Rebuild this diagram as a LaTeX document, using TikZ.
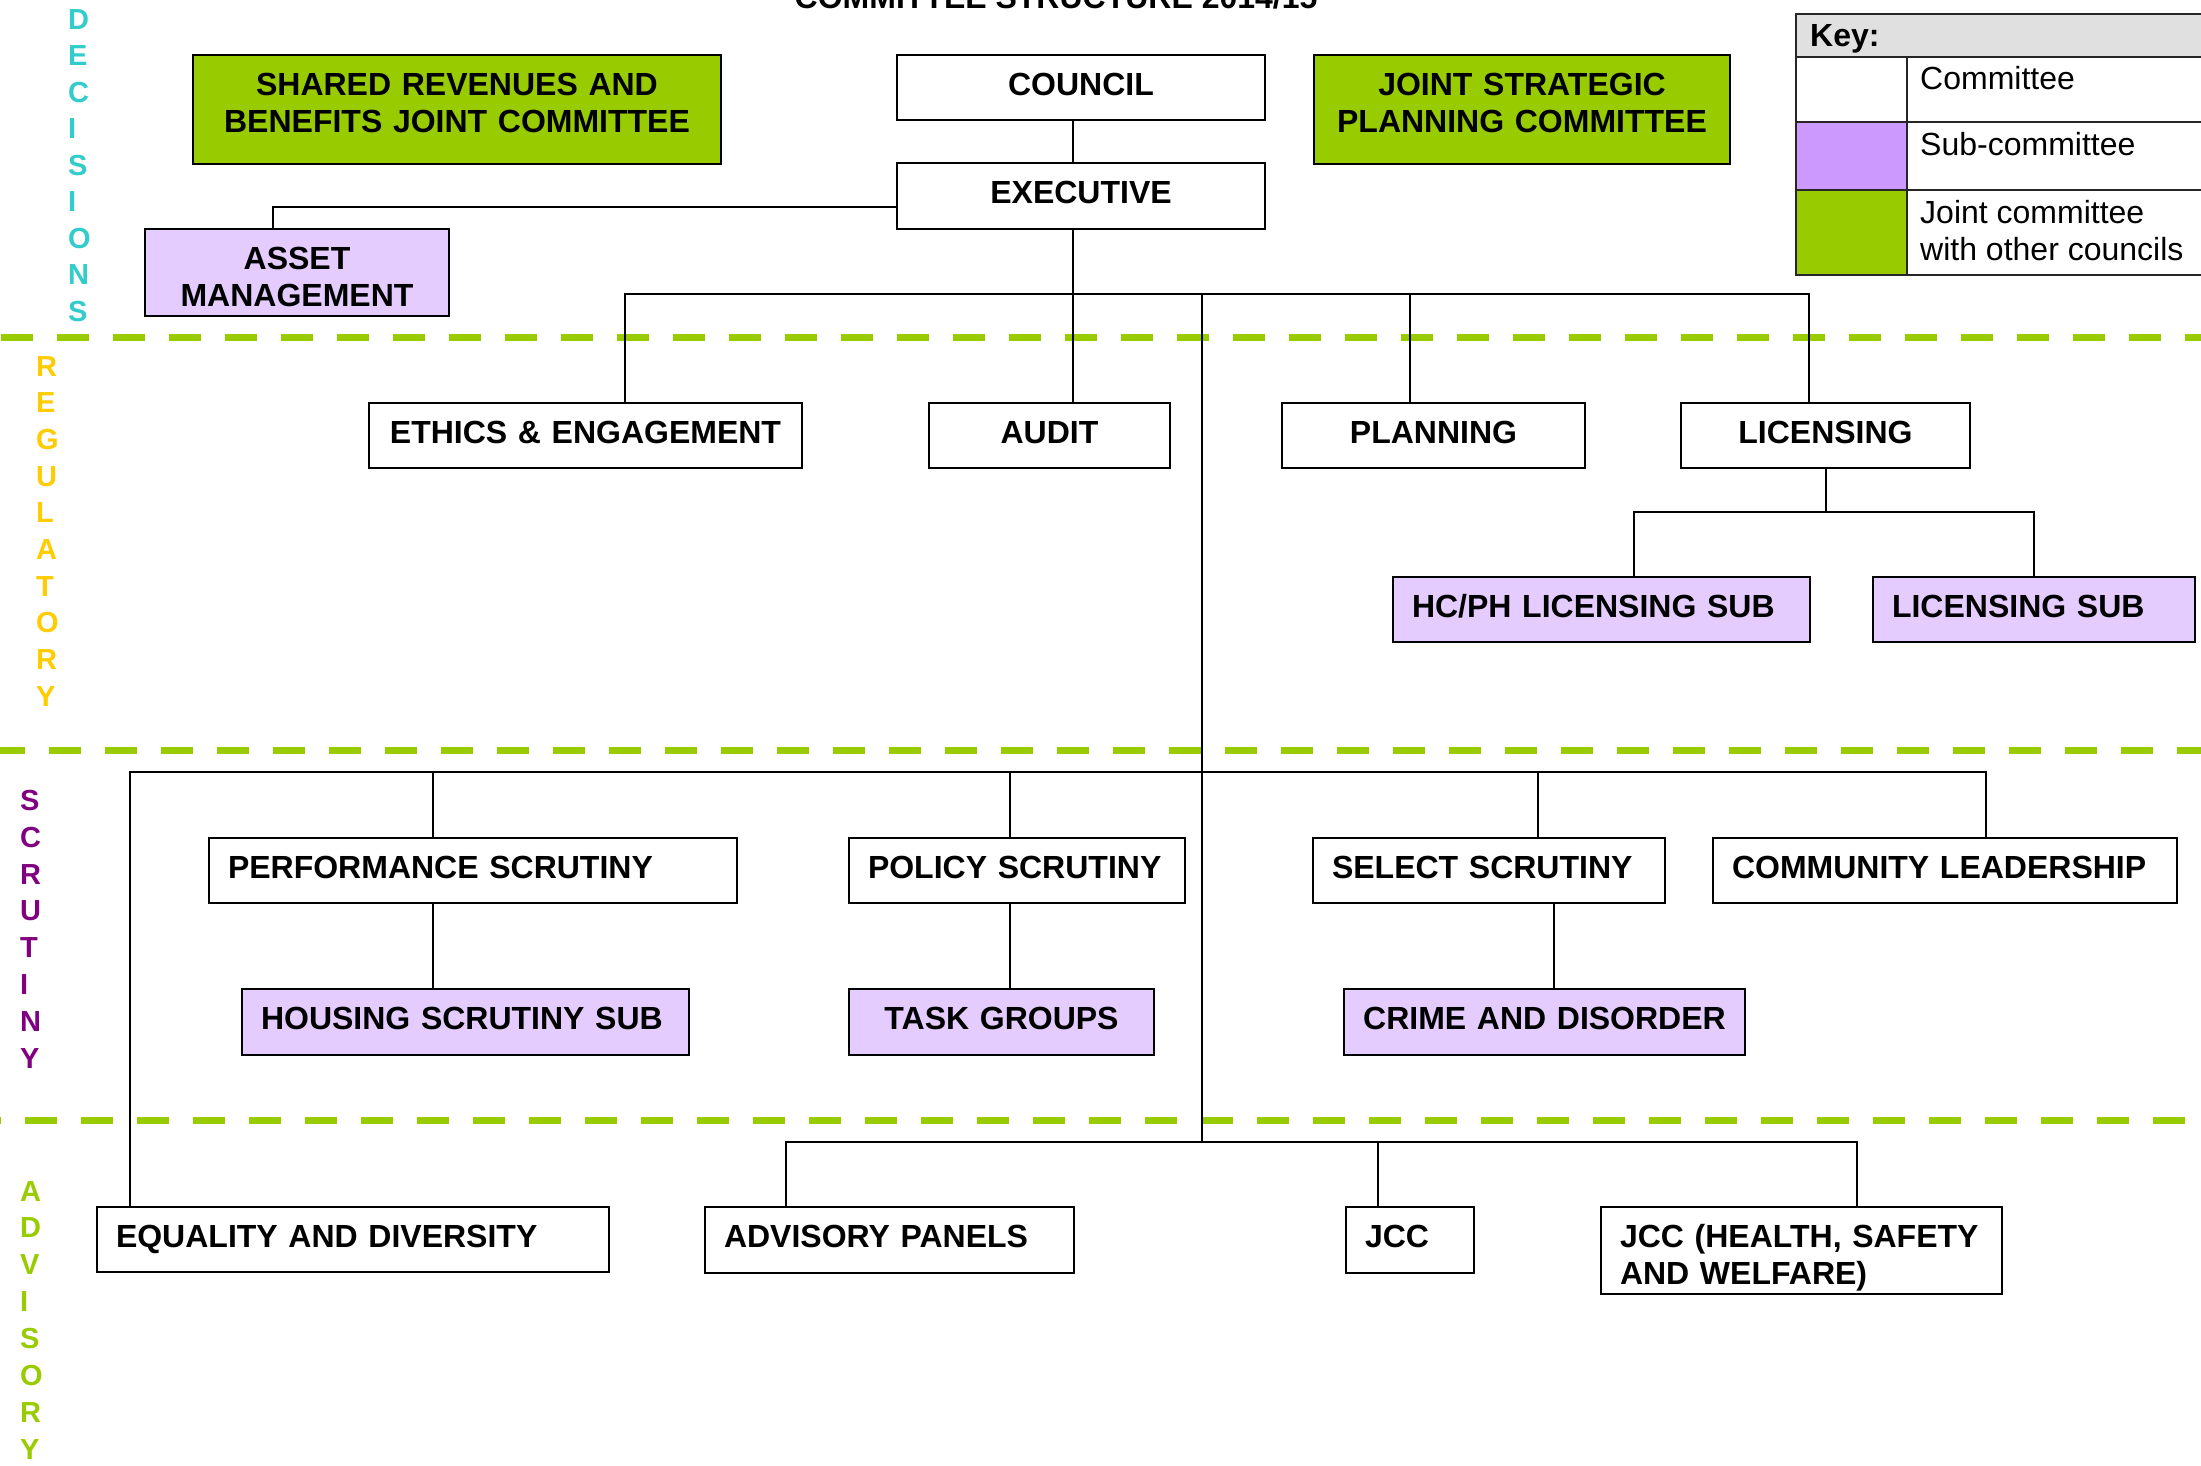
\documentclass[tikz,border=0pt]{standalone}
\usepackage{fontspec}
\setmainfont{Liberation Sans}
\definecolor{jgreen}{HTML}{99CC00}
\definecolor{subfill}{HTML}{E4CCFF}
\definecolor{keypurple}{HTML}{CC99FF}
\definecolor{keygray}{HTML}{E0E0E0}
\definecolor{decc}{HTML}{33CCCC}
\definecolor{regc}{HTML}{FFCC00}
\definecolor{scrc}{HTML}{800080}
\definecolor{advc}{HTML}{99CC00}
\begin{document}
\begin{tikzpicture}[x=1pt,y=-1pt,
  box/.style={draw=black, line width=2.4pt, fill=white, inner xsep=19pt, inner ysep=0pt,
    outer sep=0pt, text height=40pt, minimum height=0pt,
    font=\fontsize{32}{37}\selectfont\bfseries, anchor=center},
  bl/.style={box, align=left},
  bc/.style={box, align=center},
  subc/.style={fill=subfill},
  joint/.style={fill=jgreen},
  conn/.style={draw=black, line width=2pt},
  dashline/.style={draw=jgreen, line width=7pt, dash pattern=on 32pt off 24pt},
  vlet/.style={anchor=base west, inner sep=0pt, font=\fontsize{29}{29}\selectfont\bfseries},
  keytxt/.style={anchor=base west, inner sep=0pt, font=\fontsize{32}{37}\selectfont},
  keyline/.style={draw=black!85, line width=2pt}
]
\useasboundingbox (0,0) rectangle (2201,1465);
\clip (0,0) rectangle (2201,1465);
\fill[white] (0,0) rectangle (2201,1465);

% title (cut at top)
\node[anchor=base west, inner sep=0pt, font=\fontsize{32}{37}\selectfont\bfseries] (title) at (794.5,8.5) {COMMITTEE STRUCTURE 2014/15};

% boxes
\node[bc, joint, text width=490pt, text depth=69pt] (shared) at (457,109.5) {SHARED REVENUES AND\\BENEFITS JOINT COMMITTEE};
\node[bc, text width=330pt, text depth=25pt] (council) at (1081,87.5) {COUNCIL};
\node[bc, joint, text width=378pt, text depth=69pt] (jsp) at (1522,109.5) {JOINT STRATEGIC\\PLANNING COMMITTEE};
\node[bc, text width=330pt, text depth=26pt] (exec) at (1081,196) {EXECUTIVE};
\node[bc, subc, text width=266pt, text depth=47pt] (asset) at (297,272.5) {ASSET\\MANAGEMENT};

\node[bc, text width=395pt, text depth=25pt] (ethics) at (585.5,435.5) {ETHICS \& ENGAGEMENT};
\node[bc, text width=203pt, text depth=25pt] (audit) at (1049.5,435.5) {AUDIT};
\node[bc, text width=265pt, text depth=25pt] (planning) at (1433.5,435.5) {PLANNING};
\node[bc, text width=251pt, text depth=25pt] (licensing) at (1825.5,435.5) {LICENSING};
\node[bl, subc, text width=379pt, text depth=25pt] (hcph) at (1601.5,609.5) {HC/PH LICENSING SUB};
\node[bl, subc, text width=284pt, text depth=25pt] (licsub) at (2034,609.5) {LICENSING SUB};

\node[bl, text width=490pt, text depth=25pt] (perf) at (473,870.5) {PERFORMANCE SCRUTINY};
\node[bl, text width=298pt, text depth=25pt] (policy) at (1017,870.5) {POLICY SCRUTINY};
\node[bl, text width=314pt, text depth=25pt] (select) at (1489,870.5) {SELECT SCRUTINY};
\node[bl, text width=426pt, text depth=25pt] (community) at (1945,870.5) {COMMUNITY LEADERSHIP};
\node[bl, subc, text width=409pt, text depth=26pt] (housing) at (465.5,1022) {HOUSING SCRUTINY SUB};
\node[bc, subc, text width=267pt, text depth=26pt] (task) at (1001.5,1022) {TASK GROUPS};
\node[bc, subc, text width=363pt, text depth=26pt] (crime) at (1544.5,1022) {CRIME AND DISORDER};

\node[bl, text width=474pt, text depth=25pt] (equality) at (353,1239.5) {EQUALITY AND DIVERSITY};
\node[bl, text width=331pt, text depth=26pt] (advpanels) at (889.5,1240) {ADVISORY PANELS};
\node[bl, text width=90pt, text depth=26pt] (jcc) at (1410,1240) {JCC};
\node[bl, text width=363pt, text depth=47pt] (jcchsw) at (1801.5,1250.5) {JCC (HEALTH, SAFETY\\AND WELFARE)};

% dashed section dividers
\draw[dashline] (-55,337) -- (2260,337);
\draw[dashline] (-7,750) -- (2260,750);
\draw[dashline] (-31.5,1120) -- (2260,1120);

% connector coordinates
\coordinate (xmain) at (1073,0);
\coordinate (xasset) at (273,0);
\coordinate (bus1) at (0,294);
\coordinate (xeth) at (625,0);
\coordinate (xplan) at (1410,0);
\coordinate (xlic) at (1809,0);
\coordinate (xtrunk) at (1202,0);
\coordinate (bus2) at (0,512);
\coordinate (xhc) at (1634,0);
\coordinate (bus3) at (0,772);
\coordinate (xeq) at (129.5,0);
\coordinate (xperf) at (433,0);
\coordinate (xpol) at (1010,0);
\coordinate (xsel) at (1537.5,0);
\coordinate (xcom) at (1986,0);
\coordinate (xcrime) at (1553.5,0);
\coordinate (bus4) at (0,1142);
\coordinate (xadv) at (785.5,0);
\coordinate (xjcc) at (1378,0);
\coordinate (xhsw) at (1857,0);

% connectors
\draw[conn] (xmain |- council.south) -- (xmain |- exec.north);
\draw[conn] ([yshift=-11pt]exec.west) -| (xasset |- asset.north);
\draw[conn] (xmain |- exec.south) -- (xmain |- audit.north);
\draw[conn] (xeth |- ethics.north) |- (xlic |- bus1) -- (xlic |- licensing.north);
\draw[conn] (xplan |- bus1) -- (xplan |- planning.north);
\draw[conn] (xtrunk |- bus1) -- (xtrunk |- bus4);
\draw[conn] (licensing.south) -- (licensing.south |- bus2);
\draw[conn] (xhc |- hcph.north) |- (licsub.north |- bus2) -- (licsub.north);
\draw[conn] (xeq |- equality.north) |- (xcom |- bus3) -- (xcom |- community.north);
\draw[conn] (xperf |- bus3) -- (xperf |- perf.north);
\draw[conn] (xpol |- bus3) -- (xpol |- policy.north);
\draw[conn] (xsel |- bus3) -- (xsel |- select.north);
\draw[conn] (xperf |- perf.south) -- (xperf |- housing.north);
\draw[conn] (xpol |- policy.south) -- (xpol |- task.north);
\draw[conn] (xcrime |- select.south) -- (xcrime |- crime.north);
\draw[conn] (xadv |- advpanels.north) |- (xhsw |- bus4) -- (xhsw |- jcchsw.north);
\draw[conn] (xjcc |- bus4) -- (xjcc |- jcc.north);

% vertical section labels
\foreach \l [count=\i from 0] in {D,E,C,I,S,I,O,N,S}
  \node[vlet, text=decc] (dec\i) at (68,{29+36.5*\i}) {\l};
\foreach \l [count=\i from 0] in {R,E,G,U,L,A,T,O,R,Y}
  \node[vlet, text=regc] (reg\i) at (36,{376+36.67*\i}) {\l};
\foreach \l [count=\i from 0] in {S,C,R,U,T,I,N,Y}
  \node[vlet, text=scrc] (scr\i) at (20,{810.5+36.8*\i}) {\l};
\foreach \l [count=\i from 0] in {A,D,V,I,S,O,R,Y}
  \node[vlet, text=advc] (adv\i) at (20,{1201+36.86*\i}) {\l};

% key
\fill[keygray] (1796,14) rectangle (2215,57);
\fill[keypurple] (1796,122) rectangle (1907,190);
\fill[jgreen] (1796,190) rectangle (1907,275);
\draw[keyline] (2215,14) -- (1796,14) -- (1796,275) -- (2215,275);
\draw[keyline] (1796,57) -- (2215,57);
\draw[keyline] (1796,122) -- (2215,122);
\draw[keyline] (1796,190) -- (2215,190);
\draw[keyline] (1907,57) -- (1907,275);
\node[keytxt, font=\fontsize{32}{37}\selectfont\bfseries] (keyhead) at (1810,46) {Key:};
\node[keytxt] (key1) at (1920,89) {Committee};
\node[keytxt] (key2) at (1920,155) {Sub-committee};
\node[keytxt] (key3) at (1920,223) {Joint committee};
\node[keytxt] (key3b) at (1920,260) {with other councils};
\end{tikzpicture}
\end{document}
